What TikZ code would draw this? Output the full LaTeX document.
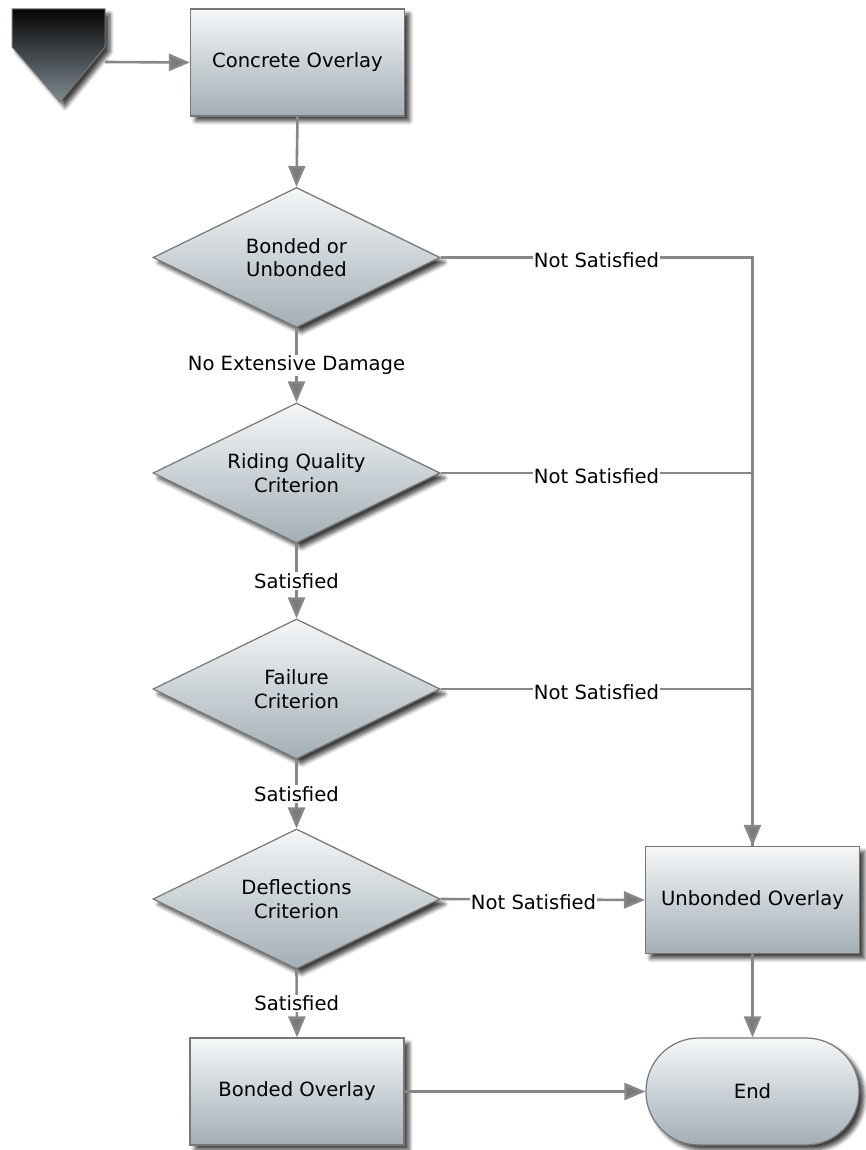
\documentclass[tikz,border=0pt]{standalone}
\usepackage{fontspec}
\setmainfont{DejaVu Sans}
\usetikzlibrary{shapes.geometric,shadows.blur,arrows.meta}
\definecolor{boxtop}{HTML}{F5F7F8}
\definecolor{boxbot}{HTML}{A2AEB6}
\definecolor{edgegray}{HTML}{777777}
\definecolor{linegray}{HTML}{878787}
\definecolor{tipgray}{HTML}{7A7A7A}
\definecolor{starttop}{HTML}{050505}
\definecolor{startbot}{HTML}{7F8B93}
\tikzset{
  shadowed/.style={blur shadow={shadow xshift=5pt, shadow yshift=-5pt, shadow opacity=75, shadow blur radius=4pt, shadow blur steps=6}},
  procbox/.style={rectangle, draw=edgegray, line width=1.2pt, top color=boxtop, bottom color=boxbot, minimum width=214pt, minimum height=107pt, inner sep=0pt, shadowed},
  decision/.style={diamond, draw=edgegray, line width=1.2pt, top color=boxtop, bottom color=boxbot, minimum width=287pt, minimum height=140pt, aspect=2.05, inner sep=0pt, align=center, shadowed},
  termbox/.style={rectangle, rounded corners=53pt, draw=edgegray, line width=1.2pt, top color=boxtop, bottom color=boxbot, minimum width=213pt, minimum height=107pt, inner sep=0pt, shadowed},
  conn/.style={draw=linegray, line width=2.6pt, -{Triangle[length=21pt,width=17pt,fill=tipgray]}},
  plain/.style={draw=linegray, line width=2.6pt},
  lbl/.style={fill=white, inner sep=1pt, text=black},
  hlbl/.style={lbl, yshift=-3pt}
}
\begin{document}
\begin{tikzpicture}[x=1pt,y=-1pt, font=\fontsize{19.6}{23.5}\selectfont]
\useasboundingbox (0,0) rectangle (865,1150);
% start marker
\path[top color=starttop, bottom color=startbot, draw=edgegray, line width=1pt, shadowed]
  (12,9) -- (105,9) -- (105,47) -- (60,102) -- (12,47) -- cycle;
\coordinate (start) at (105,62);

\node[procbox] (conc) at (297.5,62.5) {Concrete Overlay};
\node[decision] (d1) at (296.5,257.5) {Bonded or\\Unbonded};
\node[decision] (d2) at (296.5,473) {Riding Quality\\Criterion};
\node[decision] (d3) at (296.5,689) {Failure\\Criterion};
\node[decision] (d4) at (296.5,899) {Deflections\\Criterion};
\node[procbox] (bond) at (297,1091.5) {Bonded Overlay};
\node[procbox] (unb) at (752.5,900) {Unbonded Overlay};
\node[termbox] (end) at (752.5,1091.5) {End};

\draw[conn] (start) -- (conc.west);
\draw[conn] (conc.south) -- (d1.north);
\draw[conn] (d1.south) -- node[lbl]{No Extensive Damage} (d2.north);
\draw[conn] (d2.south) -- node[lbl]{Satisfied} (d3.north);
\draw[conn] (d3.south) -- node[lbl]{Satisfied} (d4.north);
\draw[conn] (d4.south) -- node[lbl]{Satisfied} (bond.north);

\draw[plain] (d1.east) -| node[hlbl,pos=0.25]{Not Satisfied} (unb.north);
\draw[plain] (d2.east) -| node[hlbl,pos=0.25]{Not Satisfied} (unb.north);
\draw[conn] (d3.east) -| node[hlbl,pos=0.25]{Not Satisfied} (unb.north);
\draw[conn] (d4.east) -- node[hlbl,pos=0.455]{Not Satisfied} (unb.west);

\draw[conn] (unb.south) -- (end.north);
\draw[conn] (bond.east) -- (end.west);
\end{tikzpicture}
\end{document}
